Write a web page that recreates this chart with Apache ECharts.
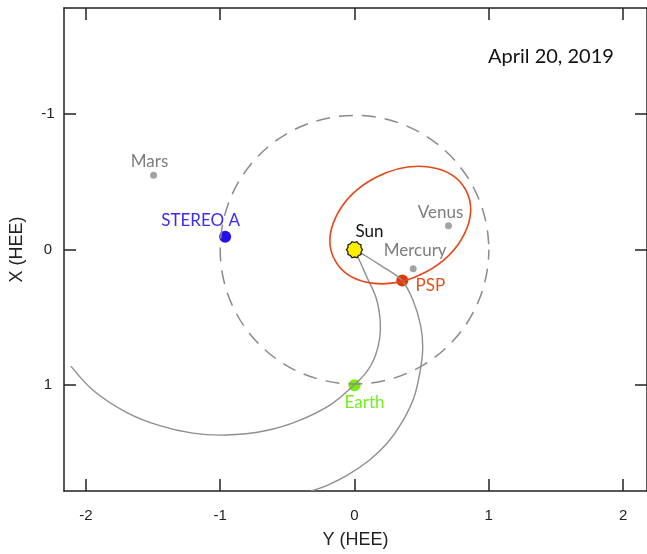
<!DOCTYPE html>
<html>
<head>
<meta charset="utf-8">
<script src="https://cdn.jsdelivr.net/npm/echarts@6/dist/echarts.min.js"></script>
<style>html,body{margin:0;padding:0;background:#fff;}#c{width:647px;height:554px;}</style>
</head>
<body>
<div id="c"></div>
<script>
// ---- data (Y HEE, X HEE) ----
const xTicks = [-2, -1, 0, 1, 2];
const yTicks = [-1, 0, 1];
const dateLabel = 'April 20, 2019';

// Earth orbit: centre (Y, X) and radius in AU
const earthOrbitCenter = [0, 0];
const earthOrbitRadius = 1.0;

// PSP orbit: centre (Y, X), semi-major / semi-minor axis (AU), tilt of major axis (deg, upward from +Y)
const pspOrbitCenter = [0.341, -0.182];
const pspOrbitAxes = [0.553, 0.395];
const pspOrbitTilt = 28;

const spiralEarth = [
  [0, 0], [0.044, 0.094], [0.096, 0.211], [0.162, 0.358], [0.191, 0.519], [0.188, 0.651],
  [0.155, 0.784], [0.096, 0.894], [0, 0.996], [-0.174, 1.141], [-0.419, 1.263],
  [-0.664, 1.336], [-0.959, 1.368], [-1.205, 1.354], [-1.45, 1.299], [-1.695, 1.202],
  [-1.94, 1.043], [-2.112, 0.859]
];

const spiralPSP = [
  [0, 0], [0.09, 0.05], [0.191, 0.114], [0.353, 0.226], [0.439, 0.382], [0.493, 0.563],
  [0.508, 0.725], [0.489, 0.894], [0.442, 1.092], [0.353, 1.275], [0.243, 1.429],
  [0.11, 1.554], [-0.052, 1.664], [-0.199, 1.737], [-0.324, 1.781]
];

const planetNames = ['Mars', 'Venus', 'Mercury'];
const planetPos = [[-1.496, -0.55], [0.70, -0.176], [0.437, 0.14]];
const stereoPos = [-0.963, -0.096];
const pspPos = [0.356, 0.228];
const earthPos = [0, 1.0];
const sunPos = [0, 0];

// ---- styling ----
const labelFont = 'Lato';
const labelSize = 17;
function sunPath() {
  let d = '';
  const n = 20;
  for (let i = 0; i < n; i++) {
    const a = (i / n) * Math.PI * 2;
    const r = i % 2 === 0 ? 10 : 8.6;
    const x = (r * Math.cos(a)).toFixed(2), y = (r * Math.sin(a)).toFixed(2);
    d += (i === 0 ? 'M' : 'L') + x + ' ' + y + ' ';
  }
  return 'path://' + d + 'Z';
}

const planetOffsets = [[-4, -14], [-8, -13], [2, -18]];

const chart = echarts.init(document.getElementById('c'), null, { renderer: 'canvas' });

const axisCommon = {
  type: 'value',
  splitLine: { show: false },
  axisLine: { show: true, onZero: false, lineStyle: { color: '#222', width: 1.5 } },
  axisTick: { show: true, inside: true, length: 12, lineStyle: { color: '#222', width: 1.5 } }
};

function lbl(text, offset, color) {
  return { show: true, position: 'inside', offset: offset, formatter: text,
    color: color, fontFamily: labelFont, fontSize: labelSize };
}

function spiralSeries(pts) {
  return {
    type: 'custom', z: 3, clip: true, data: [pts[0]],
    renderItem: function (params, api) {
      return {
        type: 'polyline',
        shape: { points: pts.map(p => api.coord(p)), smooth: 0.35 },
        style: { stroke: '#8f8f8f', lineWidth: 1.4, fill: null }
      };
    }
  };
}

chart.setOption({
  animation: false,
  backgroundColor: '#fff',
  title: {
    text: dateLabel, left: 483, top: 42,
    textStyle: { fontFamily: labelFont, fontSize: 20, fontWeight: 'normal', color: '#111' }
  },
  grid: { left: 63, right: -6, top: 8, bottom: 60 },
  xAxis: [
    Object.assign({}, axisCommon, {
      position: 'bottom', min: -2.163, max: 2.178,
      axisTick: Object.assign({}, axisCommon.axisTick, { customValues: xTicks }),
      axisLabel: { customValues: xTicks, margin: 17, fontFamily: 'Liberation Sans', fontSize: 15, color: '#222' },
      name: 'Y (HEE)', nameLocation: 'middle', nameGap: 40,
      nameTextStyle: { fontFamily: 'Liberation Sans', fontSize: 18, color: '#222' }
    }),
    Object.assign({}, axisCommon, {
      position: 'top', min: -2.163, max: 2.178,
      axisTick: Object.assign({}, axisCommon.axisTick, { customValues: xTicks }),
      axisLabel: { show: false }
    })
  ],
  yAxis: [
    Object.assign({}, axisCommon, {
      position: 'left', inverse: true, min: -1.784, max: 1.781,
      axisTick: Object.assign({}, axisCommon.axisTick, { customValues: yTicks }),
      axisLabel: { customValues: yTicks, margin: 16, align: 'center', fontFamily: 'Liberation Sans', fontSize: 15, color: '#222' },
      name: 'X (HEE)', nameLocation: 'middle', nameGap: 38, nameRotate: 90,
      nameTextStyle: { fontFamily: 'Liberation Sans', fontSize: 18, color: '#222' }
    }),
    Object.assign({}, axisCommon, {
      position: 'right', inverse: true, min: -1.784, max: 1.781,
      axisTick: Object.assign({}, axisCommon.axisTick, { customValues: yTicks }),
      axisLabel: { show: false }
    })
  ],
  series: [
    {
      type: 'scatter', z: 2, symbolSize: 7,
      itemStyle: { color: '#a3a3a3', opacity: 1 },
      data: planetNames.map((n, i) => ({
        value: planetPos[i], name: n, label: lbl(n, planetOffsets[i], '#7d7d7d')
      }))
    },
    {
      type: 'scatter', z: 2, symbolSize: 12,
      data: [
        { value: stereoPos, itemStyle: { color: '#2412ee', opacity: 1 }, label: lbl('STEREO A', [-24.5, -16], '#3c2cf2') },
        { value: pspPos, itemStyle: { color: '#dd3a0a', opacity: 1 }, label: lbl('PSP', [28, 5], '#e2521c') },
        { value: earthPos, itemStyle: { color: '#76ee0a', opacity: 1 }, label: lbl('Earth', [10, 17], '#74ec22') }
      ]
    },
    {
      type: 'custom', z: 3, clip: true, data: [earthOrbitCenter],
      renderItem: function (params, api) {
        const c = api.coord(earthOrbitCenter);
        const r = Math.abs(api.size([earthOrbitRadius, earthOrbitRadius])[0]);
        return {
          type: 'circle', shape: { cx: c[0], cy: c[1], r: r },
          style: { stroke: '#8a8a8a', lineWidth: 1.5, fill: null, lineDash: [14, 9], lineDashOffset: 4 }
        };
      }
    },
    spiralSeries(spiralEarth),
    spiralSeries(spiralPSP),
    {
      type: 'custom', z: 3, clip: true, data: [pspOrbitCenter],
      renderItem: function (params, api) {
        const c = api.coord(pspOrbitCenter);
        const s = api.size([1, 1]);
        return {
          type: 'ellipse', x: c[0], y: c[1], rotation: pspOrbitTilt * Math.PI / 180,
          shape: { cx: 0, cy: 0, rx: pspOrbitAxes[0] * Math.abs(s[0]), ry: pspOrbitAxes[1] * Math.abs(s[1]) },
          style: { stroke: '#e5461a', lineWidth: 1.6, fill: null }
        };
      }
    },
    {
      type: 'scatter', z: 5, symbol: sunPath(), symbolSize: 16,
      itemStyle: { color: '#ffee00', borderColor: '#111', borderWidth: 1.2, opacity: 1 },
      data: [{ value: sunPos, label: lbl('Sun', [15, -18], '#111') }]
    }
  ]
});
</script>
</body>
</html>
